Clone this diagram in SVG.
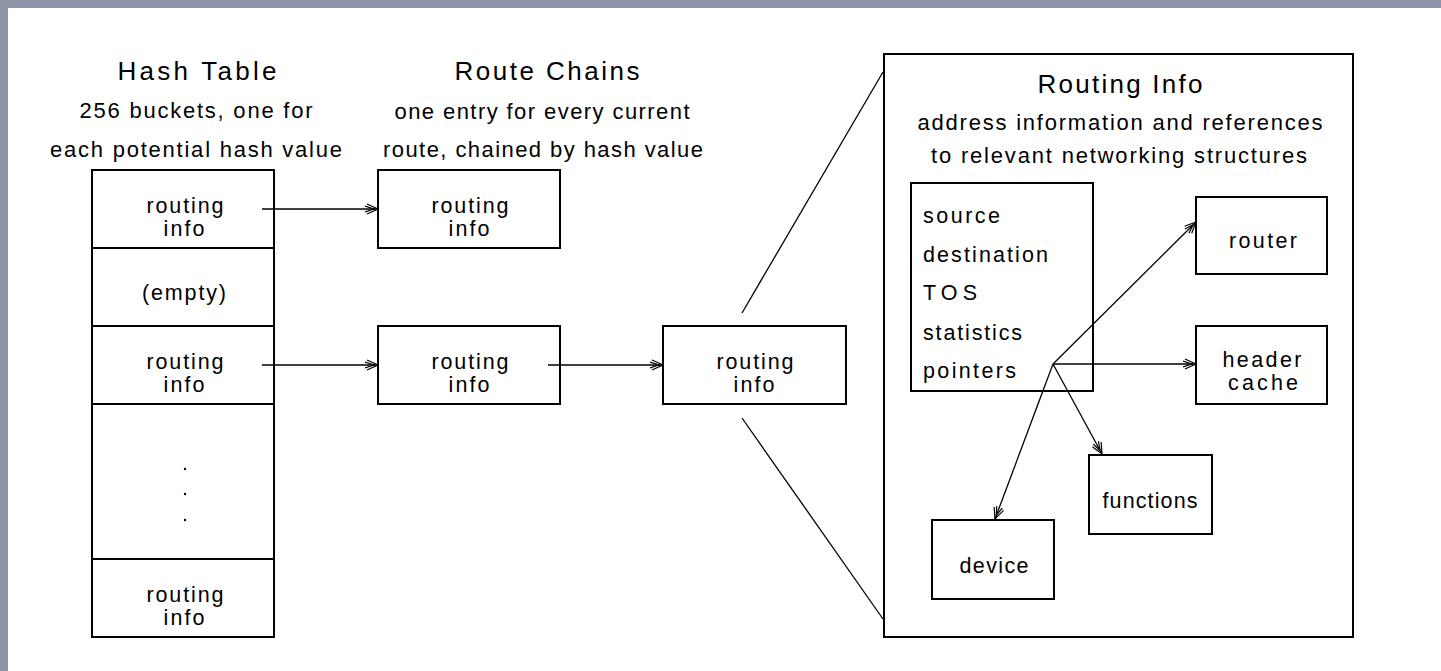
<svg xmlns="http://www.w3.org/2000/svg" width="1441" height="671" viewBox="0 0 1441 671">
<style>
text{font-family:"Liberation Sans",Arial,sans-serif;fill:#000;text-anchor:middle}
.t{font-size:26px}
.s{font-size:22px}
.b{font-size:21.5px}
.l{text-anchor:start}
.box{fill:none;stroke:#000;stroke-width:2}
.c{fill:none;stroke:#000;stroke-width:1.3}
.z{fill:none;stroke:#000;stroke-width:1.3}
</style>
<defs>
<marker id="ah" markerUnits="userSpaceOnUse" markerWidth="16" markerHeight="14" refX="13" refY="7" orient="auto">
<path d="M2,2 L13,7 L2,12 M0,4 L9,7 L0,10" fill="none" stroke="#000" stroke-width="1.2"/>
</marker>
</defs>
<rect x="0" y="0" width="1441" height="671" fill="#fff"/>
<rect x="0" y="0" width="1441" height="8" fill="#8f94a8"/>
<rect x="0" y="0" width="8" height="671" fill="#8f94a8"/>

<g id="labels">
<text class="t" x="197" y="80" textLength="159" lengthAdjust="spacing">Hash Table</text>
<text class="s" x="196" y="118" textLength="233" lengthAdjust="spacing">256 buckets, one for</text>
<text class="s" x="196" y="157" textLength="292" lengthAdjust="spacing">each potential hash value</text>
<text class="t" x="547" y="80" textLength="185" lengthAdjust="spacing">Route Chains</text>
<text class="s" x="542" y="119" textLength="295" lengthAdjust="spacing">one entry for every current</text>
<text class="s" x="543" y="157" textLength="320" lengthAdjust="spacing">route, chained by hash value</text>
</g>

<g id="hash-table">
<rect class="box" x="92" y="170" width="182" height="467"/>
<line class="box" x1="92" y1="248" x2="274" y2="248"/>
<line class="box" x1="92" y1="326" x2="274" y2="326"/>
<line class="box" x1="92" y1="404" x2="274" y2="404"/>
<line class="box" x1="92" y1="559" x2="274" y2="559"/>
<text class="b" x="185" y="213" textLength="77" lengthAdjust="spacing">routing</text>
<text class="b" x="184" y="236" textLength="41" lengthAdjust="spacing">info</text>
<text class="b" x="184" y="300" textLength="84" lengthAdjust="spacing">(empty)</text>
<text class="b" x="185" y="369" textLength="77" lengthAdjust="spacing">routing</text>
<text class="b" x="184" y="392" textLength="41" lengthAdjust="spacing">info</text>
<circle cx="185" cy="469" r="1.2" fill="#000"/>
<circle cx="185" cy="494" r="1.2" fill="#000"/>
<circle cx="185" cy="520" r="1.2" fill="#000"/>
<text class="b" x="185" y="602" textLength="77" lengthAdjust="spacing">routing</text>
<text class="b" x="184" y="625" textLength="41" lengthAdjust="spacing">info</text>
</g>

<g id="chain1">
<rect class="box" x="378" y="170" width="182" height="78"/>
<text class="b" x="470" y="213" textLength="77" lengthAdjust="spacing">routing</text>
<text class="b" x="469" y="236" textLength="41" lengthAdjust="spacing">info</text>
</g>
<g id="chain2">
<rect class="box" x="378" y="326" width="182" height="78"/>
<text class="b" x="470" y="369" textLength="77" lengthAdjust="spacing">routing</text>
<text class="b" x="469" y="392" textLength="41" lengthAdjust="spacing">info</text>
</g>
<g id="chain3">
<rect class="box" x="663" y="326" width="183" height="78"/>
<text class="b" x="755" y="369" textLength="77" lengthAdjust="spacing">routing</text>
<text class="b" x="754" y="392" textLength="41" lengthAdjust="spacing">info</text>
</g>

<g id="routing-info">
<rect class="box" x="884" y="54" width="469" height="583"/>
<text class="t" x="1120" y="93" textLength="165" lengthAdjust="spacing">Routing Info</text>
<text class="s" x="1120" y="130" textLength="405" lengthAdjust="spacing">address information and references</text>
<text class="s" x="1119" y="163" textLength="376" lengthAdjust="spacing">to relevant networking structures</text>
</g>

<g id="fields">
<rect class="box" x="911" y="183" width="182" height="208"/>
<text class="b l" x="923" y="223" textLength="77" lengthAdjust="spacing">source</text>
<text class="b l" x="923" y="262" textLength="125" lengthAdjust="spacing">destination</text>
<text class="b l" x="923" y="300" textLength="54" lengthAdjust="spacing">TOS</text>
<text class="b l" x="923" y="340" textLength="99" lengthAdjust="spacing">statistics</text>
<text class="b l" x="923" y="378" textLength="93" lengthAdjust="spacing">pointers</text>
</g>

<g id="router">
<rect class="box" x="1196" y="197" width="131" height="77"/>
<text class="b" x="1263" y="248" textLength="68" lengthAdjust="spacing">router</text>
</g>
<g id="header-cache">
<rect class="box" x="1196" y="326" width="131" height="78"/>
<text class="b" x="1262" y="367" textLength="79" lengthAdjust="spacing">header</text>
<text class="b" x="1263" y="390" textLength="70" lengthAdjust="spacing">cache</text>
</g>
<g id="functions">
<rect class="box" x="1089" y="455" width="123" height="79"/>
<text class="b" x="1150" y="508" textLength="95" lengthAdjust="spacing">functions</text>
</g>
<g id="device">
<rect class="box" x="932" y="520" width="122" height="79"/>
<text class="b" x="994" y="573" textLength="69" lengthAdjust="spacing">device</text>
</g>

<g id="connectors">
<line class="c" x1="262" y1="209" x2="378" y2="209" marker-end="url(#ah)"/>
<line class="c" x1="262" y1="365" x2="378" y2="365" marker-end="url(#ah)"/>
<line class="c" x1="548" y1="365" x2="663" y2="365" marker-end="url(#ah)"/>
<line class="z" x1="742" y1="313" x2="883" y2="72"/>
<line class="z" x1="742" y1="418" x2="883" y2="619"/>
<line class="c" x1="1053" y1="364" x2="1196" y2="222" marker-end="url(#ah)"/>
<line class="c" x1="1053" y1="364" x2="1196" y2="364" marker-end="url(#ah)"/>
<line class="c" x1="1053" y1="364" x2="1102" y2="454" marker-end="url(#ah)"/>
<line class="c" x1="1053" y1="364" x2="995" y2="519" marker-end="url(#ah)"/>
</g>
</svg>
